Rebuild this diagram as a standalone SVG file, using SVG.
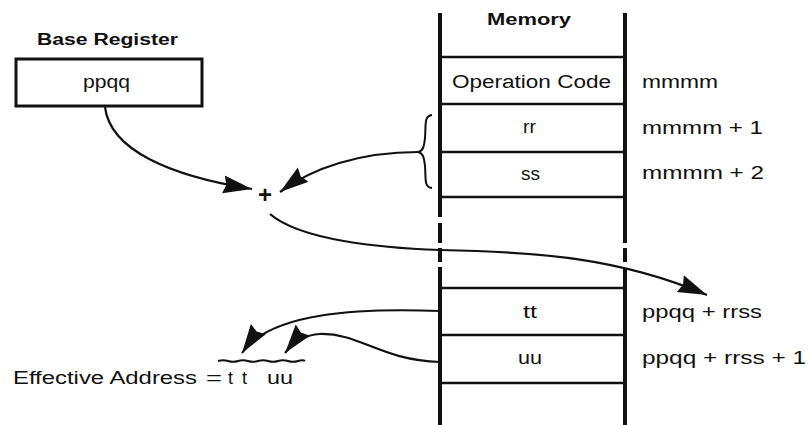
<svg xmlns="http://www.w3.org/2000/svg" width="808" height="425" viewBox="0 0 808 425">
<style>
text{font-family:"Liberation Sans",Arial,sans-serif;fill:#111;font-size:18px}
.b{font-weight:bold;font-size:16px}
.plus{font-weight:bold;font-size:24px}
.col{stroke:#111;stroke-width:4;fill:none}
.row{stroke:#111;stroke-width:2.5;fill:none}
.con{stroke:#111;stroke-width:2.2;fill:none}
</style>
<defs>
<marker id="ah" viewBox="0 0 30 20" markerUnits="userSpaceOnUse" markerWidth="30" markerHeight="20" refX="29" refY="10" orient="auto">
<path d="M0,1 L29,10 L0,19 L3,10 z" fill="#111"/>
</marker>
</defs>
<rect width="808" height="425" fill="#fff"/>

<g id="base-register">
<text class="b" x="37" y="45" textLength="141" lengthAdjust="spacingAndGlyphs">Base Register</text>
<rect x="16" y="59" width="186" height="47" fill="#fff" stroke="#111" stroke-width="3"/>
<text x="83" y="88" textLength="47" lengthAdjust="spacingAndGlyphs">ppqq</text>
</g>

<g id="plus">
<text class="plus" x="265" y="203" text-anchor="middle">+</text>
</g>

<g id="memory">
<text class="b" x="487" y="25" textLength="84" lengthAdjust="spacingAndGlyphs">Memory</text>
<path class="col" d="M440,13 V217 M440,223 V243 M440,248 V262 M440,267 V425"/>
<path class="col" d="M625,13 V243 M625,248 V262 M625,268 V425"/>
<path class="row" d="M440,57 H625 M440,104 H625 M440,152 H625 M440,197 H625 M440,288 H625 M440,335 H625 M440,383 H625"/>
<text x="452" y="88" textLength="159" lengthAdjust="spacingAndGlyphs">Operation Code</text>
<text x="523" y="133" textLength="13" lengthAdjust="spacingAndGlyphs">rr</text>
<text x="521" y="180" textLength="19" lengthAdjust="spacingAndGlyphs">ss</text>
<text x="523" y="318" textLength="14" lengthAdjust="spacingAndGlyphs">tt</text>
<text x="518" y="364" textLength="24" lengthAdjust="spacingAndGlyphs">uu</text>
</g>

<g id="addresses">
<text x="642" y="88" textLength="76" lengthAdjust="spacingAndGlyphs">mmmm</text>
<text x="642" y="134" textLength="121" lengthAdjust="spacingAndGlyphs">mmmm + 1</text>
<text x="642" y="179" textLength="122" lengthAdjust="spacingAndGlyphs">mmmm + 2</text>
<text x="642" y="318" textLength="120" lengthAdjust="spacingAndGlyphs">ppqq + rrss</text>
<text x="642" y="364" textLength="164" lengthAdjust="spacingAndGlyphs">ppqq + rrss + 1</text>
</g>

<g id="brace">
<path d="M432,115 C424,116 426,124 425,138 C424,147 423,151 418,152 C423,153 424,157 425,166 C426,180 424,187 432,188" fill="none" stroke="#111" stroke-width="2"/>
</g>

<g id="effective-address">
<text y="384"><tspan x="13" textLength="184" lengthAdjust="spacingAndGlyphs">Effective Address</tspan><tspan x="206" textLength="16" lengthAdjust="spacingAndGlyphs">=</tspan><tspan x="228" textLength="19" lengthAdjust="spacing">tt</tspan><tspan x="267" textLength="26" lengthAdjust="spacingAndGlyphs">uu</tspan></text>
<path d="M218,361 q5,-1.6 10,0 t10,0 t10,0 t10,0 t10,0 t10,0 t10,0 t10,0 t7,0" fill="none" stroke="#111" stroke-width="2"/>
</g>

<g id="connectors">
<path class="con" d="M105,107 C110,150 170,176 252,189" marker-end="url(#ah)"/>
<path class="con" d="M418,152 C360,152 312,168 280,192" marker-end="url(#ah)"/>
<path class="con" d="M270,214 C300,240 380,248 440,250 C540,252 620,258 707,295" marker-end="url(#ah)"/>
<path class="con" d="M440,311 C360,308 270,312 242,353" marker-end="url(#ah)"/>
<path class="con" d="M440,362 C380,360 360,333 320,334 C303,335 292,344 285,353" marker-end="url(#ah)"/>
</g>
</svg>
